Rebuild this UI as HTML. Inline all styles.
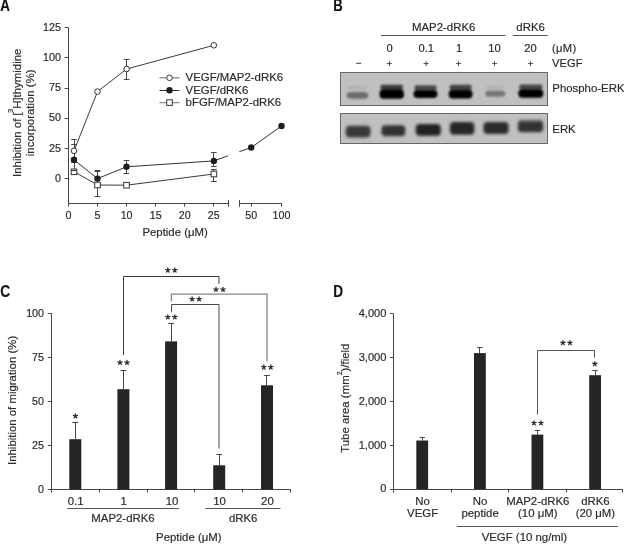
<!DOCTYPE html>
<html><head><meta charset="utf-8"><title>Figure</title>
<style>
html,body{margin:0;padding:0;background:#fff;width:624px;height:544px;overflow:hidden}
svg{display:block;font-family:"Liberation Sans",sans-serif;will-change:transform}
text{stroke:#2b2b2b;stroke-width:0.18px}
</style></head>
<body>
<svg width="624" height="544" viewBox="0 0 624 544">
<rect width="624" height="544" fill="#fff"/>
<text transform="translate(0.2,11.2) scale(0.84,1)" font-size="16" font-weight="bold" fill="#111">A</text>
<text transform="translate(333.2,10.5) scale(0.82,1)" font-size="16" font-weight="bold" fill="#111">B</text>
<text transform="translate(0.3,297.0) scale(0.86,1)" font-size="16" font-weight="bold" fill="#111">C</text>
<text transform="translate(333.3,296.9) scale(0.85,1)" font-size="16" font-weight="bold" fill="#111">D</text>
<line x1="68.50" y1="27.80" x2="68.50" y2="203.50" stroke="#464646" stroke-width="1"/>
<line x1="64.60" y1="178.50" x2="68.50" y2="178.50" stroke="#464646" stroke-width="1"/>
<text x="60.90" y="181.60" font-size="10.7" text-anchor="end" fill="#2b2b2b" >0</text>
<line x1="64.60" y1="148.50" x2="68.50" y2="148.50" stroke="#464646" stroke-width="1"/>
<text x="60.90" y="151.50" font-size="10.7" text-anchor="end" fill="#2b2b2b" >25</text>
<line x1="64.60" y1="118.50" x2="68.50" y2="118.50" stroke="#464646" stroke-width="1"/>
<text x="60.90" y="121.40" font-size="10.7" text-anchor="end" fill="#2b2b2b" >50</text>
<line x1="64.60" y1="88.50" x2="68.50" y2="88.50" stroke="#464646" stroke-width="1"/>
<text x="60.90" y="91.30" font-size="10.7" text-anchor="end" fill="#2b2b2b" >75</text>
<line x1="64.60" y1="57.50" x2="68.50" y2="57.50" stroke="#464646" stroke-width="1"/>
<text x="60.90" y="61.20" font-size="10.7" text-anchor="end" fill="#2b2b2b" >100</text>
<line x1="64.60" y1="27.50" x2="68.50" y2="27.50" stroke="#464646" stroke-width="1"/>
<text x="60.90" y="31.10" font-size="10.7" text-anchor="end" fill="#2b2b2b" >125</text>
<line x1="68.50" y1="203.50" x2="228.50" y2="203.50" stroke="#464646" stroke-width="1"/>
<line x1="239.20" y1="203.50" x2="281.50" y2="203.50" stroke="#464646" stroke-width="1"/>
<line x1="228.50" y1="200.00" x2="228.50" y2="206.80" stroke="#464646" stroke-width="1"/>
<line x1="239.50" y1="200.00" x2="239.50" y2="206.80" stroke="#464646" stroke-width="1"/>
<line x1="68.50" y1="203.50" x2="68.50" y2="206.60" stroke="#464646" stroke-width="1"/>
<text x="68.50" y="218.80" font-size="10.7" text-anchor="middle" fill="#2b2b2b" >0</text>
<line x1="97.50" y1="203.50" x2="97.50" y2="206.60" stroke="#464646" stroke-width="1"/>
<text x="97.55" y="218.80" font-size="10.7" text-anchor="middle" fill="#2b2b2b" >5</text>
<line x1="126.50" y1="203.50" x2="126.50" y2="206.60" stroke="#464646" stroke-width="1"/>
<text x="126.60" y="218.80" font-size="10.7" text-anchor="middle" fill="#2b2b2b" >10</text>
<line x1="155.50" y1="203.50" x2="155.50" y2="206.60" stroke="#464646" stroke-width="1"/>
<text x="155.65" y="218.80" font-size="10.7" text-anchor="middle" fill="#2b2b2b" >15</text>
<line x1="184.50" y1="203.50" x2="184.50" y2="206.60" stroke="#464646" stroke-width="1"/>
<text x="184.70" y="218.80" font-size="10.7" text-anchor="middle" fill="#2b2b2b" >20</text>
<line x1="213.50" y1="203.50" x2="213.50" y2="206.60" stroke="#464646" stroke-width="1"/>
<text x="213.75" y="218.80" font-size="10.7" text-anchor="middle" fill="#2b2b2b" >25</text>
<line x1="251.50" y1="203.50" x2="251.50" y2="206.60" stroke="#464646" stroke-width="1"/>
<text x="251.20" y="218.80" font-size="10.7" text-anchor="middle" fill="#2b2b2b" >50</text>
<line x1="281.50" y1="203.50" x2="281.50" y2="206.60" stroke="#464646" stroke-width="1"/>
<text x="281.50" y="218.80" font-size="10.7" text-anchor="middle" fill="#2b2b2b" >100</text>
<text x="175.10" y="235.90" font-size="11.4" text-anchor="middle" fill="#2b2b2b" >Peptide (&#956;M)</text>
<text transform="translate(20.6,112.8) rotate(-90)" font-size="11.4" text-anchor="middle" fill="#2b2b2b">Inhibition of [<tspan font-size="7" dy="-7.4" dx="-0.3">3</tspan><tspan dy="7.4">H]thymidine</tspan></text>
<text transform="translate(33.7,112.8) rotate(-90)" font-size="11.4" text-anchor="middle" fill="#2b2b2b">incorporation (%)</text>
<line x1="74.50" y1="139.50" x2="74.50" y2="162.00" stroke="#464646" stroke-width="1"/>
<line x1="71.20" y1="139.50" x2="76.80" y2="139.50" stroke="#464646" stroke-width="1"/>
<line x1="71.20" y1="162.50" x2="76.80" y2="162.50" stroke="#464646" stroke-width="1"/>
<line x1="74.50" y1="145.00" x2="74.50" y2="175.00" stroke="#464646" stroke-width="1"/>
<line x1="71.20" y1="144.50" x2="76.80" y2="144.50" stroke="#464646" stroke-width="1"/>
<line x1="71.20" y1="174.50" x2="76.80" y2="174.50" stroke="#464646" stroke-width="1"/>
<line x1="97.50" y1="170.90" x2="97.50" y2="186.30" stroke="#464646" stroke-width="1"/>
<line x1="94.70" y1="170.50" x2="100.30" y2="170.50" stroke="#464646" stroke-width="1"/>
<line x1="94.70" y1="186.50" x2="100.30" y2="186.50" stroke="#464646" stroke-width="1"/>
<line x1="97.50" y1="171.10" x2="97.50" y2="196.20" stroke="#464646" stroke-width="1"/>
<line x1="94.70" y1="171.50" x2="100.30" y2="171.50" stroke="#464646" stroke-width="1"/>
<line x1="94.70" y1="196.50" x2="100.30" y2="196.50" stroke="#464646" stroke-width="1"/>
<line x1="126.50" y1="59.40" x2="126.50" y2="79.30" stroke="#464646" stroke-width="1"/>
<line x1="123.80" y1="59.50" x2="129.40" y2="59.50" stroke="#464646" stroke-width="1"/>
<line x1="123.80" y1="79.50" x2="129.40" y2="79.50" stroke="#464646" stroke-width="1"/>
<line x1="126.50" y1="160.40" x2="126.50" y2="173.40" stroke="#464646" stroke-width="1"/>
<line x1="123.70" y1="160.50" x2="129.30" y2="160.50" stroke="#464646" stroke-width="1"/>
<line x1="123.70" y1="173.50" x2="129.30" y2="173.50" stroke="#464646" stroke-width="1"/>
<line x1="213.50" y1="152.90" x2="213.50" y2="167.00" stroke="#464646" stroke-width="1"/>
<line x1="211.10" y1="152.50" x2="216.70" y2="152.50" stroke="#464646" stroke-width="1"/>
<line x1="211.10" y1="166.50" x2="216.70" y2="166.50" stroke="#464646" stroke-width="1"/>
<line x1="213.50" y1="169.80" x2="213.50" y2="181.10" stroke="#464646" stroke-width="1"/>
<line x1="211.10" y1="169.50" x2="216.70" y2="169.50" stroke="#464646" stroke-width="1"/>
<line x1="211.10" y1="181.50" x2="216.70" y2="181.50" stroke="#464646" stroke-width="1"/>
<path d="M74.0,150.8 L97.5,91.6 L126.6,69.0 L213.8,45.3" stroke="#3c3c3c" stroke-width="1" fill="none" />
<path d="M74.0,159.8 L97.5,178.6 L126.5,166.8 L213.9,160.9 L228.0,155.8" stroke="#333" stroke-width="1" fill="none" />
<path d="M239.3,151.7 L251.2,147.5 L281.5,126.0" stroke="#333" stroke-width="1" fill="none" />
<path d="M74.0,171.6 L97.5,185.0 L126.5,185.2 L213.9,174.0" stroke="#3c3c3c" stroke-width="1" fill="none" />
<circle cx="74.0" cy="150.8" r="2.8" fill="#fff" stroke="#333" stroke-width="1"/>
<circle cx="97.5" cy="91.6" r="2.8" fill="#fff" stroke="#333" stroke-width="1"/>
<circle cx="126.6" cy="69.0" r="2.8" fill="#fff" stroke="#333" stroke-width="1"/>
<circle cx="213.8" cy="45.3" r="2.8" fill="#fff" stroke="#333" stroke-width="1"/>
<circle cx="74.0" cy="159.8" r="3.2" fill="#1e1e1e"/>
<circle cx="97.5" cy="178.6" r="3.2" fill="#1e1e1e"/>
<circle cx="126.5" cy="166.8" r="3.2" fill="#1e1e1e"/>
<circle cx="213.9" cy="160.9" r="3.2" fill="#1e1e1e"/>
<circle cx="251.2" cy="147.5" r="3.2" fill="#1e1e1e"/>
<circle cx="281.5" cy="126.0" r="3.2" fill="#1e1e1e"/>
<rect x="71.2" y="169.0" width="5.6" height="5.6" fill="#fff" stroke="#333" stroke-width="1"/>
<rect x="94.7" y="182.2" width="5.6" height="5.6" fill="#fff" stroke="#333" stroke-width="1"/>
<rect x="123.7" y="182.39999999999998" width="5.6" height="5.6" fill="#fff" stroke="#333" stroke-width="1"/>
<rect x="211.1" y="171.2" width="5.6" height="5.6" fill="#fff" stroke="#333" stroke-width="1"/>
<line x1="71.20" y1="170.50" x2="76.80" y2="170.50" stroke="#333" stroke-width="1"/>
<line x1="159.50" y1="77.80" x2="179.50" y2="77.80" stroke="#8a8a8a" stroke-width="1.3"/>
<circle cx="169.5" cy="77.8" r="2.8" fill="#fff" stroke="#333"/>
<text x="185.60" y="81.40" font-size="11.4" text-anchor="start" fill="#2b2b2b" >VEGF/MAP2-dRK6</text>
<line x1="159.50" y1="90.50" x2="179.50" y2="90.50" stroke="#333" stroke-width="1"/>
<circle cx="169.5" cy="90.3" r="3.2" fill="#1e1e1e"/>
<text x="185.60" y="93.70" font-size="11.4" text-anchor="start" fill="#2b2b2b" >VEGF/dRK6</text>
<line x1="159.50" y1="102.60" x2="179.50" y2="102.60" stroke="#8a8a8a" stroke-width="1.3"/>
<rect x="166.7" y="99.8" width="5.6" height="5.6" fill="#fff" stroke="#333"/>
<text x="185.60" y="106.10" font-size="11.4" text-anchor="start" fill="#2b2b2b" >bFGF/MAP2-dRK6</text>
<text x="443.70" y="31.30" font-size="11.4" text-anchor="middle" fill="#2b2b2b" >MAP2-dRK6</text>
<line x1="381.00" y1="35.50" x2="505.40" y2="35.50" stroke="#555" stroke-width="1"/>
<text x="530.60" y="31.30" font-size="11.4" text-anchor="middle" fill="#2b2b2b" >dRK6</text>
<line x1="513.00" y1="35.50" x2="547.90" y2="35.50" stroke="#555" stroke-width="1"/>
<text x="389.50" y="52.00" font-size="11.2" text-anchor="middle" fill="#2b2b2b" >0</text>
<text x="426.30" y="52.00" font-size="11.2" text-anchor="middle" fill="#2b2b2b" >0.1</text>
<text x="459.00" y="52.00" font-size="11.2" text-anchor="middle" fill="#2b2b2b" >1</text>
<text x="494.60" y="52.00" font-size="11.2" text-anchor="middle" fill="#2b2b2b" >10</text>
<text x="530.60" y="52.00" font-size="11.2" text-anchor="middle" fill="#2b2b2b" >20</text>
<text x="552.00" y="52.00" font-size="11.2" text-anchor="start" fill="#2b2b2b" letter-spacing="0.3">(&#956;M)</text>
<line x1="356.20" y1="63.30" x2="361.20" y2="63.30" stroke="#555" stroke-width="1.2"/>
<text x="389.40" y="67.10" font-size="9.8" text-anchor="middle" fill="#2b2b2b" >+</text>
<text x="426.00" y="67.10" font-size="9.8" text-anchor="middle" fill="#2b2b2b" >+</text>
<text x="458.50" y="67.10" font-size="9.8" text-anchor="middle" fill="#2b2b2b" >+</text>
<text x="494.60" y="67.10" font-size="9.8" text-anchor="middle" fill="#2b2b2b" >+</text>
<text x="530.60" y="67.10" font-size="9.8" text-anchor="middle" fill="#2b2b2b" >+</text>
<text x="552.00" y="67.30" font-size="11.2" text-anchor="start" fill="#2b2b2b" >VEGF</text>
<text x="552.30" y="91.70" font-size="11.4" text-anchor="start" fill="#2b2b2b" >Phospho-ERK</text>
<text x="552.30" y="132.70" font-size="11.4" text-anchor="start" fill="#2b2b2b" >ERK</text>
<defs><filter id="bl" x="-30%" y="-80%" width="160%" height="260%"><feGaussianBlur stdDeviation="1.3"/></filter><filter id="bl2" x="-30%" y="-80%" width="160%" height="260%"><feGaussianBlur stdDeviation="1.8"/></filter></defs>
<rect x="340.5" y="72.5" width="207" height="33" fill="#c0c0c0" stroke="#686868" stroke-width="1"/>
<rect x="340.5" y="113.5" width="207" height="30" fill="#c0c0c0" stroke="#686868" stroke-width="1"/>
<g filter="url(#bl)"><rect x="347.8" y="86.0" width="19.4" height="4.2" rx="2" fill="#b2b2b2"/><rect x="346.8" y="92.0" width="21.4" height="6.7" rx="4" fill="#6c6c6c"/><rect x="380.5" y="84.8" width="22.5" height="5.3" rx="2" fill="#3c3c3c"/><rect x="379.5" y="89.5" width="24.5" height="9.2" rx="4" fill="#000"/><rect x="414.5" y="85.3" width="22.0" height="5.2" rx="2" fill="#4a4a4a"/><rect x="413.5" y="89.9" width="24.0" height="8.2" rx="4" fill="#000"/><rect x="449.7" y="84.8" width="21.8" height="5.6" rx="2" fill="#454545"/><rect x="448.7" y="89.8" width="23.8" height="8.7" rx="4" fill="#000"/><rect x="486.2" y="85.5" width="18.1" height="4.4" rx="2" fill="#b4b4b4"/><rect x="485.2" y="90.8" width="20.1" height="5.9" rx="4" fill="#777"/><rect x="519.3" y="84.5" width="23.0" height="5.3" rx="2" fill="#444"/><rect x="518.3" y="89.2" width="25.0" height="8.5" rx="4" fill="#000"/><path d="M413.5,92.3 L418,90.3 L418,95 Z" fill="#000"/></g>
<g filter="url(#bl2)"><rect x="345.7" y="125.8" width="24.8" height="11.8" rx="4" fill="#383838"/><rect x="381.5" y="125.2" width="23.8" height="11.0" rx="4" fill="#303030"/><rect x="415.7" y="124.0" width="25.1" height="11.8" rx="4" fill="#222"/><rect x="449.9" y="122.0" width="24.4" height="12.8" rx="4" fill="#262626"/><rect x="483.5" y="122.0" width="25.1" height="11.9" rx="4" fill="#2a2a2a"/><rect x="517.9000000000001" y="120.3" width="25.2" height="11.9" rx="4" fill="#303030"/><rect x="520" y="120.3" width="21" height="2.2" rx="1" fill="#555"/></g>
<line x1="51.50" y1="313.20" x2="51.50" y2="489.60" stroke="#464646" stroke-width="1"/>
<line x1="47.80" y1="489.50" x2="51.30" y2="489.50" stroke="#464646" stroke-width="1"/>
<text x="44.00" y="493.35" font-size="10.7" text-anchor="end" fill="#2b2b2b" >0</text>
<line x1="47.80" y1="445.50" x2="51.30" y2="445.50" stroke="#464646" stroke-width="1"/>
<text x="44.00" y="449.25" font-size="10.7" text-anchor="end" fill="#2b2b2b" >25</text>
<line x1="47.80" y1="401.50" x2="51.30" y2="401.50" stroke="#464646" stroke-width="1"/>
<text x="44.00" y="405.15" font-size="10.7" text-anchor="end" fill="#2b2b2b" >50</text>
<line x1="47.80" y1="357.50" x2="51.30" y2="357.50" stroke="#464646" stroke-width="1"/>
<text x="44.00" y="361.05" font-size="10.7" text-anchor="end" fill="#2b2b2b" >75</text>
<line x1="47.80" y1="313.50" x2="51.30" y2="313.50" stroke="#464646" stroke-width="1"/>
<text x="44.00" y="316.95" font-size="10.7" text-anchor="end" fill="#2b2b2b" >100</text>
<line x1="51.30" y1="489.50" x2="290.80" y2="489.50" stroke="#464646" stroke-width="1"/>
<line x1="51.50" y1="489.60" x2="51.50" y2="492.60" stroke="#464646" stroke-width="1"/>
<line x1="99.50" y1="489.60" x2="99.50" y2="492.60" stroke="#464646" stroke-width="1"/>
<line x1="147.50" y1="489.60" x2="147.50" y2="492.60" stroke="#464646" stroke-width="1"/>
<line x1="194.50" y1="489.60" x2="194.50" y2="492.60" stroke="#464646" stroke-width="1"/>
<line x1="242.50" y1="489.60" x2="242.50" y2="492.60" stroke="#464646" stroke-width="1"/>
<line x1="290.50" y1="489.60" x2="290.50" y2="492.60" stroke="#464646" stroke-width="1"/>
<line x1="75.50" y1="423.00" x2="75.50" y2="439.20" stroke="#464646" stroke-width="1"/>
<line x1="72.40" y1="422.50" x2="78.20" y2="422.50" stroke="#464646" stroke-width="1"/>
<rect x="69.30" y="439.20" width="12" height="50.40" fill="#252525"/>
<line x1="123.50" y1="370.70" x2="123.50" y2="389.20" stroke="#464646" stroke-width="1"/>
<line x1="120.50" y1="370.50" x2="126.30" y2="370.50" stroke="#464646" stroke-width="1"/>
<rect x="117.40" y="389.20" width="12" height="100.40" fill="#252525"/>
<line x1="171.50" y1="323.60" x2="171.50" y2="341.40" stroke="#464646" stroke-width="1"/>
<line x1="168.20" y1="323.50" x2="174.00" y2="323.50" stroke="#464646" stroke-width="1"/>
<rect x="165.10" y="341.40" width="12" height="148.20" fill="#252525"/>
<line x1="219.50" y1="454.10" x2="219.50" y2="465.30" stroke="#464646" stroke-width="1"/>
<line x1="216.30" y1="454.50" x2="222.10" y2="454.50" stroke="#464646" stroke-width="1"/>
<rect x="213.20" y="465.30" width="12" height="24.30" fill="#252525"/>
<line x1="266.50" y1="375.20" x2="266.50" y2="385.30" stroke="#464646" stroke-width="1"/>
<line x1="264.10" y1="375.50" x2="269.90" y2="375.50" stroke="#464646" stroke-width="1"/>
<rect x="261.00" y="385.30" width="12" height="104.30" fill="#252525"/>
<path d="M75.50,416.10L75.50,413.85M75.50,416.10L77.64,415.40M75.50,416.10L76.82,417.92M75.50,416.10L74.18,417.92M75.50,416.10L73.36,415.40" stroke="#2b2b2b" stroke-width="1.25" stroke-linecap="round" fill="none"/>
<path d="M120.00,362.60L120.00,360.35M120.00,362.60L122.14,361.90M120.00,362.60L121.32,364.42M120.00,362.60L118.68,364.42M120.00,362.60L117.86,361.90" stroke="#2b2b2b" stroke-width="1.25" stroke-linecap="round" fill="none"/>
<path d="M127.00,362.60L127.00,360.35M127.00,362.60L129.14,361.90M127.00,362.60L128.32,364.42M127.00,362.60L125.68,364.42M127.00,362.60L124.86,361.90" stroke="#2b2b2b" stroke-width="1.25" stroke-linecap="round" fill="none"/>
<path d="M167.80,317.00L167.80,314.75M167.80,317.00L169.94,316.30M167.80,317.00L169.12,318.82M167.80,317.00L166.48,318.82M167.80,317.00L165.66,316.30" stroke="#2b2b2b" stroke-width="1.25" stroke-linecap="round" fill="none"/>
<path d="M174.80,317.00L174.80,314.75M174.80,317.00L176.94,316.30M174.80,317.00L176.12,318.82M174.80,317.00L173.48,318.82M174.80,317.00L172.66,316.30" stroke="#2b2b2b" stroke-width="1.25" stroke-linecap="round" fill="none"/>
<path d="M263.80,367.20L263.80,364.95M263.80,367.20L265.94,366.50M263.80,367.20L265.12,369.02M263.80,367.20L262.48,369.02M263.80,367.20L261.66,366.50" stroke="#2b2b2b" stroke-width="1.25" stroke-linecap="round" fill="none"/>
<path d="M270.80,367.20L270.80,364.95M270.80,367.20L272.94,366.50M270.80,367.20L272.12,369.02M270.80,367.20L269.48,369.02M270.80,367.20L268.66,366.50" stroke="#2b2b2b" stroke-width="1.25" stroke-linecap="round" fill="none"/>
<path d="M123.5,355 L123.5,276.5 L219.0,276.5 L219.0,283.8" stroke="#3a3a3a" stroke-width="1" fill="none" />
<path d="M171.4,301.5 L171.4,294.1 L267.0,294.1 L267.0,361.2" stroke="#858585" stroke-width="1.3" fill="none" />
<path d="M171.5,312.2 L171.5,304.5 L219.0,304.5 L219.0,448.5" stroke="#4a4a4a" stroke-width="1" fill="none" />
<path d="M167.80,270.20L167.80,267.95M167.80,270.20L169.94,269.50M167.80,270.20L169.12,272.02M167.80,270.20L166.48,272.02M167.80,270.20L165.66,269.50" stroke="#2b2b2b" stroke-width="1.25" stroke-linecap="round" fill="none"/>
<path d="M174.80,270.20L174.80,267.95M174.80,270.20L176.94,269.50M174.80,270.20L176.12,272.02M174.80,270.20L173.48,272.02M174.80,270.20L172.66,269.50" stroke="#2b2b2b" stroke-width="1.25" stroke-linecap="round" fill="none"/>
<path d="M216.00,289.50L216.00,287.25M216.00,289.50L218.14,288.80M216.00,289.50L217.32,291.32M216.00,289.50L214.68,291.32M216.00,289.50L213.86,288.80" stroke="#2b2b2b" stroke-width="1.25" stroke-linecap="round" fill="none"/>
<path d="M223.00,289.50L223.00,287.25M223.00,289.50L225.14,288.80M223.00,289.50L224.32,291.32M223.00,289.50L221.68,291.32M223.00,289.50L220.86,288.80" stroke="#2b2b2b" stroke-width="1.25" stroke-linecap="round" fill="none"/>
<path d="M192.10,299.10L192.10,296.85M192.10,299.10L194.24,298.40M192.10,299.10L193.42,300.92M192.10,299.10L190.78,300.92M192.10,299.10L189.96,298.40" stroke="#2b2b2b" stroke-width="1.25" stroke-linecap="round" fill="none"/>
<path d="M199.10,299.10L199.10,296.85M199.10,299.10L201.24,298.40M199.10,299.10L200.42,300.92M199.10,299.10L197.78,300.92M199.10,299.10L196.96,298.40" stroke="#2b2b2b" stroke-width="1.25" stroke-linecap="round" fill="none"/>
<text x="75.60" y="504.50" font-size="11.4" text-anchor="middle" fill="#2b2b2b" >0.1</text>
<text x="123.60" y="504.50" font-size="11.4" text-anchor="middle" fill="#2b2b2b" >1</text>
<text x="172.00" y="504.50" font-size="11.4" text-anchor="middle" fill="#2b2b2b" >10</text>
<text x="219.50" y="504.50" font-size="11.4" text-anchor="middle" fill="#2b2b2b" >10</text>
<text x="267.40" y="504.50" font-size="11.4" text-anchor="middle" fill="#2b2b2b" >20</text>
<line x1="67.30" y1="508.50" x2="179.00" y2="508.50" stroke="#555" stroke-width="1"/>
<line x1="205.40" y1="508.50" x2="280.50" y2="508.50" stroke="#555" stroke-width="1"/>
<text x="123.00" y="521.70" font-size="11.4" text-anchor="middle" fill="#2b2b2b" >MAP2-dRK6</text>
<text x="243.20" y="521.70" font-size="11.4" text-anchor="middle" fill="#2b2b2b" >dRK6</text>
<text x="188.80" y="541.00" font-size="11.4" text-anchor="middle" fill="#2b2b2b" >Peptide (&#956;M)</text>
<text transform="translate(15.8,400.4) rotate(-90)" font-size="11.4" text-anchor="middle" fill="#2b2b2b">Inhibition of migration (%)</text>
<line x1="393.50" y1="313.78" x2="393.50" y2="489.30" stroke="#464646" stroke-width="1"/>
<line x1="390.10" y1="489.50" x2="393.60" y2="489.50" stroke="#464646" stroke-width="1"/>
<text x="386.40" y="492.40" font-size="11.1" text-anchor="end" fill="#2b2b2b" >0</text>
<line x1="390.10" y1="445.50" x2="393.60" y2="445.50" stroke="#464646" stroke-width="1"/>
<text x="386.40" y="448.52" font-size="11.1" text-anchor="end" fill="#2b2b2b" >1,000</text>
<line x1="390.10" y1="401.50" x2="393.60" y2="401.50" stroke="#464646" stroke-width="1"/>
<text x="386.40" y="404.64" font-size="11.1" text-anchor="end" fill="#2b2b2b" >2,000</text>
<line x1="390.10" y1="357.50" x2="393.60" y2="357.50" stroke="#464646" stroke-width="1"/>
<text x="386.40" y="360.76" font-size="11.1" text-anchor="end" fill="#2b2b2b" >3,000</text>
<line x1="390.10" y1="313.50" x2="393.60" y2="313.50" stroke="#464646" stroke-width="1"/>
<text x="386.40" y="316.88" font-size="11.1" text-anchor="end" fill="#2b2b2b" >4,000</text>
<line x1="393.60" y1="489.50" x2="623.00" y2="489.50" stroke="#464646" stroke-width="1"/>
<line x1="393.50" y1="489.30" x2="393.50" y2="492.60" stroke="#464646" stroke-width="1"/>
<line x1="451.50" y1="489.30" x2="451.50" y2="492.60" stroke="#464646" stroke-width="1"/>
<line x1="508.50" y1="489.30" x2="508.50" y2="492.60" stroke="#464646" stroke-width="1"/>
<line x1="566.50" y1="489.30" x2="566.50" y2="492.60" stroke="#464646" stroke-width="1"/>
<line x1="622.50" y1="489.30" x2="622.50" y2="492.60" stroke="#464646" stroke-width="1"/>
<line x1="422.50" y1="437.40" x2="422.50" y2="440.50" stroke="#464646" stroke-width="1"/>
<line x1="419.50" y1="437.50" x2="424.90" y2="437.50" stroke="#464646" stroke-width="1"/>
<rect x="416.30" y="440.50" width="11.8" height="48.80" fill="#252525"/>
<line x1="479.50" y1="347.30" x2="479.50" y2="353.10" stroke="#464646" stroke-width="1"/>
<line x1="477.20" y1="347.50" x2="482.60" y2="347.50" stroke="#464646" stroke-width="1"/>
<rect x="474.00" y="353.10" width="11.8" height="136.20" fill="#252525"/>
<line x1="537.50" y1="430.40" x2="537.50" y2="434.60" stroke="#464646" stroke-width="1"/>
<line x1="534.70" y1="430.50" x2="540.10" y2="430.50" stroke="#464646" stroke-width="1"/>
<rect x="531.50" y="434.60" width="11.8" height="54.70" fill="#252525"/>
<line x1="595.50" y1="370.70" x2="595.50" y2="375.20" stroke="#464646" stroke-width="1"/>
<line x1="592.40" y1="370.50" x2="597.80" y2="370.50" stroke="#464646" stroke-width="1"/>
<rect x="589.20" y="375.20" width="11.8" height="114.10" fill="#252525"/>
<path d="M537.5,414.6 L537.5,350.5 L594.5,350.5 L594.5,357.5" stroke="#555" stroke-width="1" fill="none" />
<path d="M562.90,342.80L562.90,340.55M562.90,342.80L565.04,342.10M562.90,342.80L564.22,344.62M562.90,342.80L561.58,344.62M562.90,342.80L560.76,342.10" stroke="#2b2b2b" stroke-width="1.25" stroke-linecap="round" fill="none"/>
<path d="M569.90,342.80L569.90,340.55M569.90,342.80L572.04,342.10M569.90,342.80L571.22,344.62M569.90,342.80L568.58,344.62M569.90,342.80L567.76,342.10" stroke="#2b2b2b" stroke-width="1.25" stroke-linecap="round" fill="none"/>
<path d="M534.00,423.00L534.00,420.75M534.00,423.00L536.14,422.30M534.00,423.00L535.32,424.82M534.00,423.00L532.68,424.82M534.00,423.00L531.86,422.30" stroke="#2b2b2b" stroke-width="1.25" stroke-linecap="round" fill="none"/>
<path d="M541.00,423.00L541.00,420.75M541.00,423.00L543.14,422.30M541.00,423.00L542.32,424.82M541.00,423.00L539.68,424.82M541.00,423.00L538.86,422.30" stroke="#2b2b2b" stroke-width="1.25" stroke-linecap="round" fill="none"/>
<path d="M594.80,363.90L594.80,361.65M594.80,363.90L596.94,363.20M594.80,363.90L596.12,365.72M594.80,363.90L593.48,365.72M594.80,363.90L592.66,363.20" stroke="#2b2b2b" stroke-width="1.25" stroke-linecap="round" fill="none"/>
<text x="422.60" y="504.50" font-size="11.4" text-anchor="middle" fill="#2b2b2b" >No</text>
<text x="422.60" y="516.90" font-size="11.4" text-anchor="middle" fill="#2b2b2b" >VEGF</text>
<text x="480.10" y="504.50" font-size="11.4" text-anchor="middle" fill="#2b2b2b" >No</text>
<text x="480.10" y="516.90" font-size="11.4" text-anchor="middle" fill="#2b2b2b" >peptide</text>
<text x="537.80" y="504.50" font-size="11.4" text-anchor="middle" fill="#2b2b2b" >MAP2-dRK6</text>
<text x="537.80" y="516.90" font-size="11.4" text-anchor="middle" fill="#2b2b2b" >(10 &#956;M)</text>
<text x="595.40" y="504.50" font-size="11.4" text-anchor="middle" fill="#2b2b2b" >dRK6</text>
<text x="595.40" y="516.90" font-size="11.4" text-anchor="middle" fill="#2b2b2b" >(20 &#956;M)</text>
<line x1="456.90" y1="526.50" x2="617.90" y2="526.50" stroke="#555" stroke-width="1"/>
<text x="524.40" y="540.60" font-size="11.4" text-anchor="middle" fill="#2b2b2b" >VEGF (10 ng/ml)</text>
<text transform="translate(349.0,398.2) rotate(-90)" font-size="11.4" text-anchor="middle" fill="#2b2b2b">Tube area (mm<tspan font-size="7" dy="-7.3">2</tspan><tspan dy="7.3">)/field</tspan></text>
</svg>
</body></html>
